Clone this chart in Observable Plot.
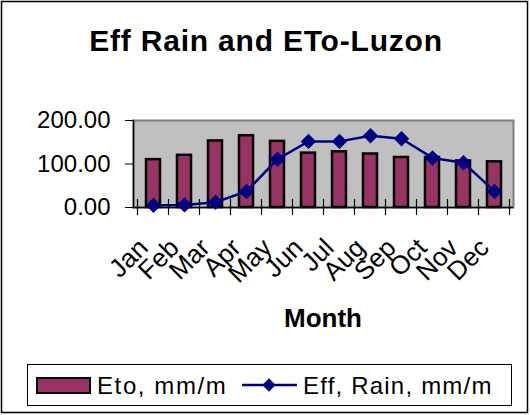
<!DOCTYPE html>
<html><head><meta charset="utf-8">
<script src="https://cdn.jsdelivr.net/npm/d3@7"></script>
<script src="https://cdn.jsdelivr.net/npm/@observablehq/plot@0.6"></script>
<style>body{margin:0;background:#fff} svg{display:block}</style>
</head><body><div id="chart"></div>
<script>
const months = ["Jan","Feb","Mar","Apr","May","Jun","Jul","Aug","Sep","Oct","Nov","Dec"];
const eto = [110,120,153,165,152,125,128,123,115,115,107,105];
const effRain = [5,6,12,37,111,152,152,165,158,114,103,37];
const yTicks = [0,100,200];
const title = "Eff Rain and ETo-Luzon";
const xLabel = "Month";
const seriesNames = ["Eto, mm/m","Eff, Rain, mm/m"];

const data = months.map((m,i)=>({month:m, eto:eto[i], rain:effRain[i]}));
const font = "'Liberation Sans', Arial, sans-serif";
const barColor = "#993366", lineColor = "#000080";

const chart = Plot.plot({
  width:530, height:415,
  marginLeft:133, marginRight:17, marginTop:120, marginBottom:208,
  style:{fontFamily:font, background:"#fff", overflow:"visible", color:"#000"},
  x:{domain:months, paddingInner:0.56, paddingOuter:0.28, axis:null},
  y:{domain:[0,200], axis:null},
  marks:[
    Plot.frame({fill:"#c0c0c0", stroke:"#808080", strokeWidth:2}),
    Plot.barY(data,{x:"month", y:"eto", fill:barColor, stroke:"#000", strokeWidth:2.5}),
    Plot.frame({anchor:"left", stroke:"#000", strokeWidth:1.5}),
    Plot.ruleY([0],{stroke:"#000", strokeWidth:1.5}),
    Plot.axisY({ticks:yTicks, tickFormat:d=>d.toFixed(2), tickSize:8, tickPadding:15, fontSize:24, stroke:"#000", style:{letterSpacing:"0.8px"}}),
    Plot.line(data,{x:"month", y:"rain", stroke:lineColor, strokeWidth:2.5}),
    Plot.dot(data,{x:"month", y:"rain", symbol:"diamond2", r:6, fill:lineColor, stroke:lineColor}),
    Plot.text(data,{x:"month", text:"month", frameAnchor:"bottom", rotate:-45, textAnchor:"end", lineAnchor:"middle", dx:-10, dy:36, fontSize:26, fill:"#000"})
  ]
});
document.getElementById("chart").appendChild(chart);

const svg = d3.select(chart);
const xs = chart.scale("x"), ys = chart.scale("y");
const step = xs.step, y0 = ys.apply(0);
const centers = months.map(m => xs.apply(m) + xs.bandwidth/2);
const bounds = centers.map(c => c - step/2).concat([centers[centers.length-1] + step/2]);
svg.append("g").attr("stroke","#000").attr("stroke-width",1.2)
  .selectAll("line").data(bounds).join("line")
  .attr("x1",d=>d).attr("x2",d=>d).attr("y1",y0-8).attr("y2",y0+8);

const midX = (xs.range[0] + xs.range[1]) / 2;
svg.append("text").attr("x",266).attr("y",51).attr("text-anchor","middle")
  .attr("font-size",30).attr("font-weight","bold").attr("letter-spacing","0.8px").attr("fill","#000").text(title);
svg.append("text").attr("x",midX).attr("y",327).attr("text-anchor","middle")
  .attr("font-size",26).attr("font-weight","bold").attr("fill","#000").text(xLabel);

// legend
const lg = svg.append("g").attr("text-anchor","start");
lg.append("rect").attr("x",27.5).attr("y",364.5).attr("width",484).attr("height",41).attr("fill","#fff").attr("stroke","#000");
lg.append("rect").attr("x",37).attr("y",378).attr("width",53).attr("height",15).attr("fill",barColor).attr("stroke","#000").attr("stroke-width",2);
lg.append("text").attr("x",97).attr("y",394).attr("text-anchor","start").attr("font-size",24).attr("letter-spacing","1.6px").attr("fill","#000").text(seriesNames[0]);
lg.append("line").attr("x1",242).attr("x2",297).attr("y1",385).attr("y2",385).attr("stroke",lineColor).attr("stroke-width",2.5);
lg.append("path").attr("d",d3.symbol(d3.symbolDiamond2, 6*6*Math.PI)()).attr("transform","translate(269,385)").attr("fill",lineColor);
lg.append("text").attr("x",303).attr("y",394).attr("text-anchor","start").attr("font-size",24).attr("letter-spacing","1.2px").attr("fill","#000").text(seriesNames[1]);

// outer border
svg.append("rect").attr("x",1.5).attr("y",1.5).attr("width",526).attr("height",411).attr("fill","none").attr("stroke","#000").attr("stroke-width",1.5);
</script>
</body></html>
